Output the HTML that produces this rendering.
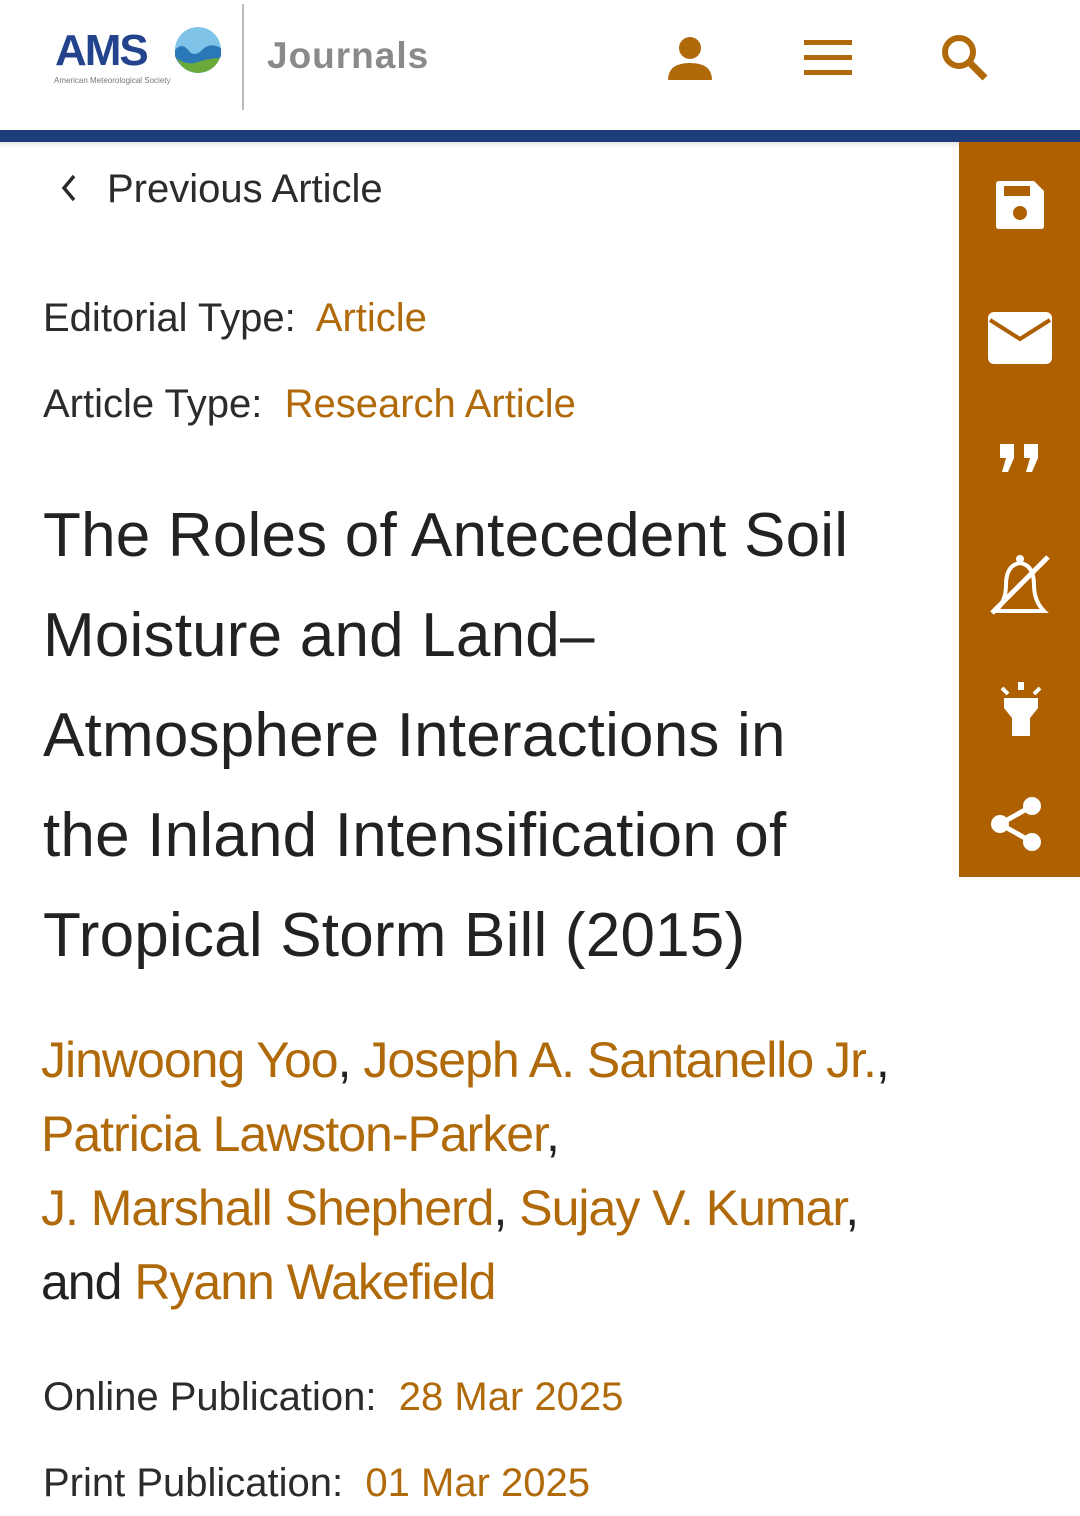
<!DOCTYPE html>
<html><head><meta charset="utf-8"><style>
body{margin:0;width:1080px;height:1516px;overflow:hidden;background:#fff;font-family:"Liberation Sans",sans-serif;color:#2b2b2b;position:relative}
.a{position:absolute;white-space:nowrap}
.o{color:#b06a0a}
</style></head><body>
<div class="a" style="left:0;top:0;width:1080px;height:130px;background:#fff"></div>
<div class="a" style="left:55px;top:26px;font-size:44px;font-weight:bold;color:#23448c;letter-spacing:-2px">AMS</div>
<svg class="a" style="left:174px;top:26px" width="48" height="48"><circle cx="24" cy="24" r="23" fill="#7fc4e8"/><path d="M1 24 Q8 16 14 24 T28 24 T47 22 L47 30 Q40 44 24 47 Q6 44 1 30Z" fill="#2a78b8"/><path d="M3 32 Q12 40 24 36 T46 32 Q40 46 24 47 Q8 46 3 32Z" fill="#6aaa3a"/></svg>
<div class="a" style="left:54px;top:76px;font-size:8px;color:#777">American Meteorological Society</div>
<div class="a" style="left:242px;top:4px;width:2px;height:106px;background:#bbb"></div>
<div class="a" style="left:267px;top:35px;font-size:37px;font-weight:bold;color:#8a8a8a;letter-spacing:1px">Journals</div>
<svg class="a" style="left:667px;top:34px" width="46" height="46"><circle cx="23" cy="14" r="11" fill="#b06a0a"/><path d="M1 46 Q1 29 23 29 Q45 29 45 46Z" fill="#b06a0a"/></svg>
<svg class="a" style="left:804px;top:40px" width="48" height="36"><rect y="0" width="48" height="5" fill="#b06a0a"/><rect y="15" width="48" height="5" fill="#b06a0a"/><rect y="30" width="48" height="5" fill="#b06a0a"/></svg>
<svg class="a" style="left:940px;top:33px" width="50" height="50"><circle cx="19" cy="19" r="14" fill="none" stroke="#b06a0a" stroke-width="6"/><line x1="29" y1="29" x2="45" y2="45" stroke="#b06a0a" stroke-width="7"/></svg>
<div class="a" style="left:0;top:130px;width:1080px;height:12px;background:#1d3c78"></div>
<div class="a" style="left:0;top:142px;width:1080px;height:6px;background:linear-gradient(#e4e4e4,#fff)"></div>

<div class="a" style="left:959px;top:142px;width:121px;height:735px;background:#ae5f00"></div>
<svg class="a" style="left:996px;top:181px" width="48" height="48"><path d="M0 3 Q0 0 3 0 L38 0 L48 10 L48 45 Q48 48 45 48 L3 48 Q0 48 0 45Z" fill="#fff"/><rect x="8" y="5" width="26" height="10" fill="#ae5f00"/><circle cx="24" cy="32" r="7" fill="#ae5f00"/></svg>
<svg class="a" style="left:988px;top:312px" width="64" height="52"><rect width="64" height="52" rx="6" fill="#fff"/><path d="M2 8 L32 27 L62 8" fill="none" stroke="#ae5f00" stroke-width="4"/></svg>
<svg class="a" style="left:1000px;top:444px" width="40" height="28"><path d="M0 0 H14 V14 L8 28 H2 L6 14 H0Z" fill="#fff"/><path d="M24 0 H38 V14 L32 28 H26 L30 14 H24Z" fill="#fff"/></svg>
<svg class="a" style="left:988px;top:553px" width="64" height="62"><path d="M8 58 Q18 48 18 32 Q18 12 32 10 Q46 12 46 32 Q46 48 56 58Z" fill="none" stroke="#fff" stroke-width="4"/><circle cx="32" cy="6" r="4" fill="#fff"/><line x1="4" y1="60" x2="60" y2="4" stroke="#fff" stroke-width="5"/></svg>
<svg class="a" style="left:998px;top:682px" width="46" height="56"><rect x="20" y="0" width="6" height="8" fill="#fff"/><line x1="4" y1="6" x2="10" y2="12" stroke="#fff" stroke-width="4"/><line x1="42" y1="6" x2="36" y2="12" stroke="#fff" stroke-width="4"/><path d="M6 16 L40 16 L40 26 L32 36 L32 54 L14 54 L14 36 L6 26Z" fill="#fff"/></svg>
<svg class="a" style="left:990px;top:796px" width="52" height="56"><line x1="10" y1="28" x2="42" y2="10" stroke="#fff" stroke-width="5"/><line x1="10" y1="28" x2="42" y2="46" stroke="#fff" stroke-width="5"/><circle cx="10" cy="28" r="9" fill="#fff"/><circle cx="42" cy="10" r="9" fill="#fff"/><circle cx="42" cy="46" r="9" fill="#fff"/></svg>

<svg class="a" style="left:60px;top:174px" width="18" height="28"><path d="M14 2 L4 14 L14 26" fill="none" stroke="#2b2b2b" stroke-width="3.5"/></svg>
<div class="a" style="left:107px;top:167px;font-size:40px;color:#2b2b2b">Previous Article</div>
<div class="a" style="left:43px;top:296px;font-size:40px">Editorial Type:&nbsp; <span class="o">Article</span></div>
<div class="a" style="left:43px;top:382px;font-size:40px">Article Type:&nbsp; <span class="o">Research Article</span></div>
<div class="a" style="left:43px;top:486px;font-size:62px;line-height:100px;color:#222;letter-spacing:0.2px">The Roles of Antecedent Soil<br>Moisture and Land–<br>Atmosphere Interactions in<br>the Inland Intensification of<br>Tropical Storm Bill (2015)</div>
<div class="a" style="left:41px;top:1023px;font-size:50px;line-height:74px;color:#222;letter-spacing:-1px"><span class="o">Jinwoong Yoo</span>, <span class="o">Joseph A. Santanello Jr.</span>,<br><span class="o">Patricia Lawston-Parker</span>,<br><span class="o">J. Marshall Shepherd</span>, <span class="o">Sujay V. Kumar</span>,<br>and <span class="o">Ryann Wakefield</span></div>
<div class="a" style="left:43px;top:1375px;font-size:40px">Online Publication:&nbsp; <span class="o">28 Mar 2025</span></div>
<div class="a" style="left:43px;top:1461px;font-size:40px">Print Publication:&nbsp; <span class="o">01 Mar 2025</span></div>
</body></html>
